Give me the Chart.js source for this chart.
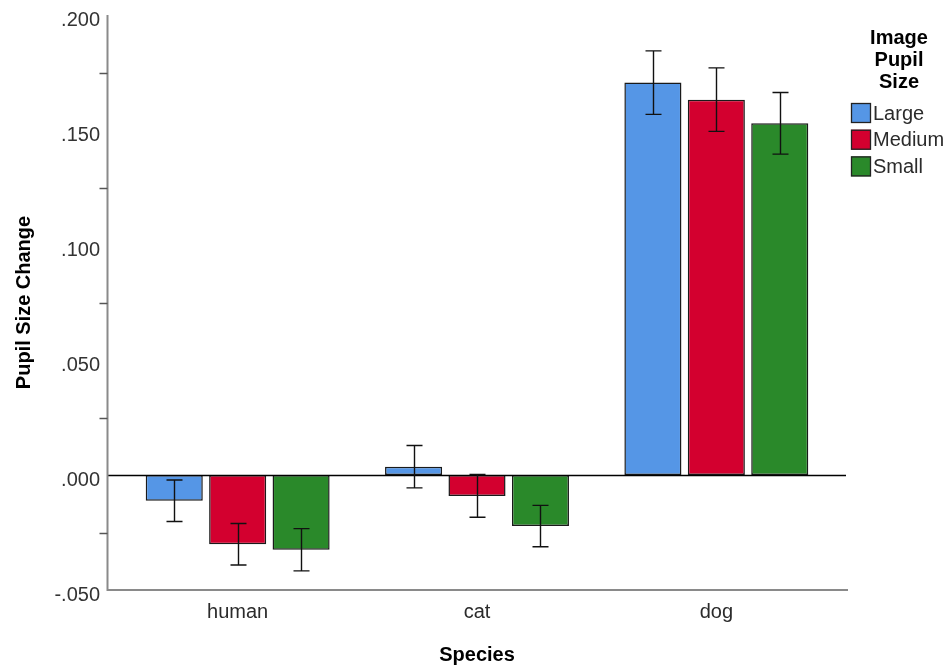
<!DOCTYPE html>
<html lang="en">
<head>
<meta charset="UTF-8">
<title>Pupil Size Change</title>
<script src="https://cdn.jsdelivr.net/npm/chart.js"></script>
<style>
  html, body { margin: 0; padding: 0; background: #fff; }
  #wrap { width: 951px; height: 667px; }
</style>
</head>
<body>
<div id="wrap"><canvas id="myChart"></canvas></div>
<script>
// data
const species = ['human', 'cat', 'dog'];
const largeMeans = [-0.0112, 0.0036, 0.1706];
const mediumMeans = [-0.0301, -0.0091, 0.1632];
const smallMeans = [-0.0325, -0.0222, 0.1529];
const largeErr = [0.0090, 0.0092, 0.0138];
const mediumErr = [0.0090, 0.0093, 0.0138];
const smallErr = [0.0092, 0.0090, 0.0134];
const yTicks = [-0.05, 0, 0.05, 0.1, 0.15, 0.2];
const minorTicks = [-0.025, 0.025, 0.075, 0.125, 0.175];
const legendTitle = ['Image', 'Pupil', 'Size'];

const colors = ['#5596e6', '#d3002f', '#2a892a'];
const errs = [largeErr, mediumErr, smallErr];
const FONT = '"Liberation Sans", Arial, sans-serif';

function fmt(v) {
    let s = Math.abs(v).toFixed(3).replace(/^0/, '');
    return v < 0 ? '-' + s : s;
}

// axis lines, minor ticks, zero line, error bars, legend
const extras = {
    id: 'extras',
    afterDatasetsDraw(chart) {
        const c = chart.ctx;
        const y = chart.scales.y;
        const area = chart.chartArea;
        const axLeft = area.left - 10.5;
        const axRight = area.right + 12;
        c.save();

        // zero line
        const zy = Math.round(y.getPixelForValue(0)) + 0.5;
        c.strokeStyle = '#000';
        c.lineWidth = 1.3;
        c.beginPath();
        c.moveTo(axLeft, zy);
        c.lineTo(axRight - 2, zy);
        c.stroke();

        // error bars
        c.strokeStyle = '#111';
        c.lineWidth = 1.4;
        chart.data.datasets.forEach((ds, i) => {
            const meta = chart.getDatasetMeta(i);
            meta.data.forEach((bar, j) => {
                const x = Math.round(bar.x) + 0.5;
                const hi = y.getPixelForValue(ds.data[j] + errs[i][j]);
                const lo = y.getPixelForValue(ds.data[j] - errs[i][j]);
                c.beginPath();
                c.moveTo(x, hi); c.lineTo(x, lo);
                c.moveTo(x - 8, hi); c.lineTo(x + 8, hi);
                c.moveTo(x - 8, lo); c.lineTo(x + 8, lo);
                c.stroke();
            });
        });

        // axes
        c.strokeStyle = '#8a8a8a';
        c.lineWidth = 2;
        c.beginPath();
        c.moveTo(axLeft, area.top);
        c.lineTo(axLeft, area.bottom);
        c.lineTo(axRight, area.bottom);
        c.stroke();
        c.lineWidth = 1.5;
        c.strokeStyle = '#555';
        minorTicks.forEach(v => {
            const py = Math.round(y.getPixelForValue(v)) + 0.5;
            c.beginPath();
            c.moveTo(axLeft - 8, py);
            c.lineTo(axLeft, py);
            c.stroke();
        });

        // legend
        c.fillStyle = '#000';
        c.font = 'bold 20px ' + FONT;
        c.textAlign = 'center';
        c.textBaseline = 'middle';
        legendTitle.forEach((t, k) => c.fillText(t, 899, 38 + k * 22));
        c.font = '20px ' + FONT;
        c.textAlign = 'left';
        chart.data.datasets.forEach((ds, i) => {
            const top = 103 + i * 26.7;
            c.fillStyle = ds.backgroundColor;
            c.fillRect(851, top, 20, 20);
            c.strokeStyle = '#222';
            c.lineWidth = 1.3;
            c.strokeRect(851.5, top + 0.5, 19, 19);
            c.fillStyle = '#2b2b2b';
            c.fillText(ds.label, 873, top + 11);
        });
        c.restore();
    }
};

const ctx = document.querySelector('#myChart').getContext('2d');
const myChart = new Chart(ctx, {
    type: 'bar',
    data: {
        labels: species,
        datasets: [
            { label: 'Large', data: largeMeans, backgroundColor: colors[0] },
            { label: 'Medium', data: mediumMeans, backgroundColor: colors[1] },
            { label: 'Small', data: smallMeans, backgroundColor: colors[2] }
        ].map(d => Object.assign(d, {
            borderColor: '#1a1a1a',
            borderWidth: 1.5,
            borderSkipped: false,
            categoryPercentage: 0.795,
            barPercentage: 0.9
        }))
    },
    options: {
        responsive: true,
        maintainAspectRatio: false,
        animation: false,
        layout: { padding: { top: 15, right: 115, bottom: 0, left: 0 } },
        plugins: {
            legend: { display: false },
            tooltip: { enabled: false }
        },
        scales: {
            x: {
                afterFit: s => { s.height = 77; s.paddingLeft = 0; s.paddingRight = 0; },
                grid: { display: false, drawTicks: false },
                border: { display: false },
                ticks: {
                    color: '#2b2b2b',
                    padding: 10,
                    font: { family: FONT, size: 20 }
                },
                title: {
                    display: true,
                    text: 'Species',
                    color: '#000',
                    padding: { top: 20, bottom: 0 },
                    font: { family: FONT, size: 20, weight: 'bold' }
                }
            },
            y: {
                min: -0.05,
                max: 0.2,
                afterFit: s => { s.width = 118; s.paddingTop = 0; s.paddingBottom = 0; },
                afterBuildTicks: s => { s.ticks = yTicks.map(v => ({ value: v })); },
                grid: { display: false, drawTicks: false },
                border: { display: false },
                ticks: {
                    color: '#333',
                    padding: 18,
                    labelOffset: 5,
                    callback: v => fmt(v),
                    font: { family: FONT, size: 20 }
                },
                title: {
                    display: true,
                    text: 'Pupil Size Change',
                    color: '#000',
                    padding: { top: 12, bottom: 0 },
                    font: { family: FONT, size: 20, weight: 'bold' }
                }
            }
        }
    },
    plugins: [extras]
});
</script>
</body>
</html>
